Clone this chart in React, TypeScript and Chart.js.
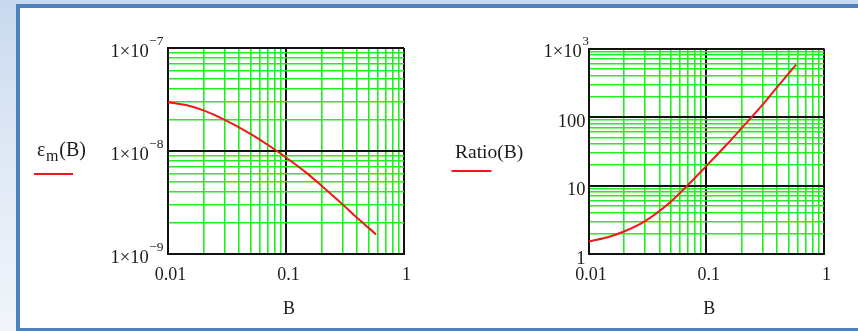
import { useEffect, useRef } from 'react';
import { Chart, registerables } from 'chart.js';

Chart.register(...registerables);

// ---- data ----
const B_VALUES = [0.01, 0.015, 0.02, 0.03, 0.05, 0.07, 0.1, 0.15, 0.2, 0.3, 0.4, 0.58];
const EPS_M = [2.97e-8, 2.75e-8, 2.48e-8, 2.02e-8, 1.47e-8, 1.15e-8, 8.65e-9, 6.1e-9, 4.6e-9, 3.05e-9, 2.25e-9, 1.55e-9];
const RATIO = [1.52, 1.79, 2.13, 3.0, 5.8, 10.2, 19.2, 40, 69, 150, 272, 582];

const X_TICK_VALUES = [0.01, 0.1, 1];
const X_TICK_LABELS = ['0.01', '0.1', '1'];
const X_TITLE = 'B';

const EPS_TICK_VALUES = [1e-9, 1e-8, 1e-7];
const EPS_TICK_LABELS = [['1×10', '−9'], ['1×10', '−8'], ['1×10', '−7']];
const RATIO_TICK_VALUES = [1, 10, 100, 1000];
const RATIO_TICK_LABELS = [['1', ''], ['10', ''], ['100', ''], ['1×10', '3']];

const SERIF = '"Liberation Serif", "Times New Roman", serif';
const TEXT = '#1e1a16';
const GREEN = '#1ef01e';
const RED = '#f01818';

function logTicks(min: number, max: number) {
  const out: any[] = [];
  const e0 = Math.round(Math.log10(min));
  const e1 = Math.round(Math.log10(max));
  for (let e = e0; e < e1; e++) {
    for (let m = 1; m < 10; m++) out.push({ value: m * Math.pow(10, e), major: m === 1 });
  }
  out.push({ value: max, major: true });
  return out;
}

function isDecade(v: number) {
  const l = Math.log10(v);
  return Math.abs(l - Math.round(l)) < 1e-6;
}

type LabelCfg = {
  yTicks: number[];
  yLabels: string[][];
  expGap: number;
  drawYLabel: (ctx: CanvasRenderingContext2D, left: number) => void;
};

function makeTextPlugin(cfg: LabelCfg) {
  return {
    id: 'mathcadText',
    afterDraw(chart: any) {
      const { ctx, chartArea } = chart;
      const xs = chart.scales.x;
      const ys = chart.scales.y;
      ctx.save();
      ctx.fillStyle = TEXT;
      ctx.textBaseline = 'alphabetic';
      ctx.font = `18px ${SERIF}`;
      ctx.textAlign = 'center';
      X_TICK_VALUES.forEach((v, i) => {
        ctx.fillText(X_TICK_LABELS[i], xs.getPixelForValue(v) + 2.5, chartArea.bottom + 26);
      });
      cfg.yTicks.forEach((v, i) => {
        const py = ys.getPixelForValue(v);
        const [m, e] = cfg.yLabels[i];
        if (e) {
          ctx.font = `13.5px ${SERIF}`;
          const ew = ctx.measureText(e).width;
          const ex = chartArea.left - cfg.expGap - ew;
          ctx.textAlign = 'left';
          ctx.fillText(e, ex, py - 3.5);
          ctx.font = `18.5px ${SERIF}`;
          ctx.textAlign = 'right';
          ctx.fillText(m, ex - 0.5, py + 8.5);
        } else {
          ctx.font = `18.5px ${SERIF}`;
          ctx.textAlign = 'right';
          ctx.fillText(m, chartArea.left - 3, py + 9.5);
        }
      });
      ctx.font = `18px ${SERIF}`;
      ctx.textAlign = 'center';
      ctx.fillText(X_TITLE, (chartArea.left + chartArea.right) / 2 + 3, 314);
      cfg.drawYLabel(ctx, chartArea.left);
      ctx.restore();
    },
  };
}

function makeConfig(
  data: number[],
  yMin: number,
  yMax: number,
  yWidth: number,
  padRight: number,
  padTop: number,
  cfg: LabelCfg
): any {
  const gridColor = (c: any) => (c.tick && isDecade(c.tick.value) ? '#111' : GREEN);
  const gridWidth = (c: any) => (c.tick && isDecade(c.tick.value) ? 2 : 1.6);
  return {
    type: 'line',
    data: {
      datasets: [
        {
          data: B_VALUES.map((b, i) => ({ x: b, y: data[i] })),
          borderColor: RED,
          borderWidth: 2,
          pointRadius: 0,
          cubicInterpolationMode: 'monotone',
          fill: false,
        },
      ],
    },
    options: {
      responsive: false,
      animation: false,
      layout: { padding: { left: 0, right: padRight, top: padTop, bottom: 0 } },
      plugins: { legend: { display: false }, tooltip: { enabled: false } },
      scales: {
        x: {
          type: 'logarithmic',
          min: 0.01,
          max: 1,
          afterBuildTicks: (s: any) => {
            s.ticks = logTicks(0.01, 1);
          },
          afterFit: (s: any) => {
            s.height = 77;
          },
          ticks: { display: false },
          grid: { color: gridColor, lineWidth: gridWidth, drawTicks: false },
          border: { display: true, color: '#111', width: 2 },
        },
        y: {
          type: 'logarithmic',
          min: yMin,
          max: yMax,
          afterBuildTicks: (s: any) => {
            s.ticks = logTicks(yMin, yMax);
          },
          afterFit: (s: any) => {
            s.width = yWidth;
          },
          ticks: { display: false },
          grid: { color: gridColor, lineWidth: gridWidth, drawTicks: false },
          border: { display: true, color: '#111', width: 2 },
        },
      },
    },
    plugins: [makeTextPlugin(cfg)],
  };
}

const epsCfg: LabelCfg = {
  yTicks: EPS_TICK_VALUES,
  yLabels: EPS_TICK_LABELS,
  expGap: 4.5,
  drawYLabel: (ctx, left) => {
    const x0 = left - 131;
    ctx.textAlign = 'left';
    ctx.font = `20px ${SERIF}`;
    ctx.fillText('ε', x0, 156);
    let x = x0 + ctx.measureText('ε').width + 0.5;
    ctx.font = `16px ${SERIF}`;
    ctx.fillText('m', x, 161);
    x += ctx.measureText('m').width + 1;
    ctx.font = `20px ${SERIF}`;
    ctx.fillText('(B)', x, 156);
    ctx.strokeStyle = RED;
    ctx.lineWidth = 2;
    ctx.beginPath();
    ctx.moveTo(left - 134, 174);
    ctx.lineTo(left - 95, 174);
    ctx.stroke();
  },
};

const ratioCfg: LabelCfg = {
  yTicks: RATIO_TICK_VALUES,
  yLabels: RATIO_TICK_LABELS,
  expGap: -0.5,
  drawYLabel: (ctx, left) => {
    ctx.textAlign = 'left';
    ctx.font = `19.5px ${SERIF}`;
    ctx.fillText('Ratio(B)', left - 133.5, 158);
    ctx.strokeStyle = RED;
    ctx.lineWidth = 2;
    ctx.beginPath();
    ctx.moveTo(left - 137, 171);
    ctx.lineTo(left - 97, 171);
    ctx.stroke();
  },
};

export default function App() {
  const leftRef = useRef<HTMLCanvasElement>(null);
  const rightRef = useRef<HTMLCanvasElement>(null);

  useEffect(() => {
    const c1 = new Chart(leftRef.current!, makeConfig(EPS_M, 1e-9, 1e-7, 168, 26, 48, epsCfg));
    const c2 = new Chart(rightRef.current!, makeConfig(RATIO, 1, 1000, 158.5, 34, 48.5, ratioCfg));
    return () => {
      c1.destroy();
      c2.destroy();
    };
  }, []);

  return (
    <div
      style={{
        position: 'fixed',
        left: 0,
        top: 0,
        width: 858,
        height: 331,
        overflow: 'hidden',
        background: 'linear-gradient(180deg, #c9d9ee 0%, #dfe8f5 45%, #f1f5fb 100%)',
      }}
    >
      <div
        style={{
          position: 'absolute',
          left: 16,
          top: 4,
          width: 900,
          height: 320,
          borderTop: '4px solid #4f81bd',
          borderLeft: '4px solid #4f81bd',
          borderBottom: '4px solid #4f81bd',
          background: '#ffffff',
        }}
      />
      <canvas ref={leftRef} width={430} height={331} style={{ position: 'absolute', left: 0, top: 0 }} />
      <canvas ref={rightRef} width={428} height={331} style={{ position: 'absolute', left: 430, top: 0 }} />
    </div>
  );
}
